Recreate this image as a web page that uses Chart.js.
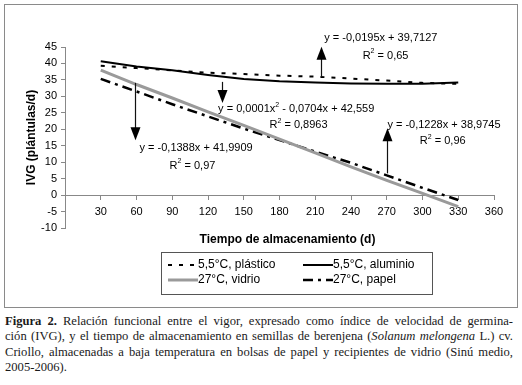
<!DOCTYPE html>
<html>
<head>
<meta charset="utf-8">
<script src="https://cdn.jsdelivr.net/npm/chart.js@4.4.0/dist/chart.umd.min.js"></script>
<style>
body{margin:0;background:#fff;width:522px;height:385px;overflow:hidden;position:relative}
#frame{position:absolute;left:4px;top:4px;width:512px;height:302px;border:1px solid #8a8a8a}
#caption{position:absolute;left:5px;top:314px;width:508px;font-family:"Liberation Serif","Times New Roman",serif;font-size:12.6px;line-height:15.3px;color:#1a1a1a}
#caption div{text-align:justify;text-align-last:justify;white-space:nowrap}
#caption div.last{text-align-last:left}
</style>
</head>
<body>
<div id="frame"><canvas id="myChart" width="512" height="302"></canvas></div>
<div id="caption">
<div><b>Figura 2.</b> Relación funcional entre el vigor, expresado como índice de velocidad de germina-</div>
<div>ción (IVG), y el tiempo de almacenamiento en semillas de berenjena (<i>Solanum melongena</i> L.) cv.</div>
<div>Criollo, almacenadas a baja temperatura en bolsas de papel y recipientes de vidrio (Sinú medio,</div>
<div class="last">2005-2006).</div>
</div>
<script>
// datos (dias de almacenamiento, IVG)
const dias = [30, 60, 90, 120, 150, 180, 210, 240, 270, 300, 330];
const plastico = [39.3, 38.6, 37.9, 37.2, 36.8, 36.3, 36.0, 35.4, 34.8, 34.1, 33.8];
const aluminio = [40.7, 39.1, 37.9, 36.5, 35.3, 34.6, 34.2, 33.9, 33.8, 33.8, 34.2];
const vidrio = [38.0, 33.6, 29.5, 25.3, 21.2, 17.0, 12.8, 8.6, 4.5, 0.5, -3.5];
const papel = [35.3, 31.5, 27.6, 23.9, 20.2, 16.7, 13.2, 9.8, 6.0, 2.2, -1.5];
const nombres = ['5,5°C, plástico', '5,5°C, aluminio', '27°C, vidrio', '27°C, papel'];
const ticksX = [30, 60, 90, 120, 150, 180, 210, 240, 270, 300, 330, 360];

const FONT = '"Liberation Sans", Arial, sans-serif';

// ecuaciones y flechas, en coordenadas de datos
const anotaciones = [
  {x: 215, desde: 35.9, hasta: 45.1,
   textos: [{x: 265, y: 47.6, seg: [['y = -0,0195x + 39,7127']]},
            {x: 269, y: 42.4, seg: [['R'], ['2', 1], [' = 0,65']]}]},
  {x: 132, desde: 34.4, hasta: 28.0,
   textos: [{x: 194, y: 26.1, seg: [['y = 0,0001x'], ['2', 1], [' - 0,0704x + 42,559']]},
            {x: 196, y: 21.3, seg: [['R'], ['2', 1], [' = 0,8963']]}]},
  {x: 59, desde: 34.1, hasta: 16.7,
   textos: [{x: 110, y: 14.2, seg: [['y = -0,1388x + 41,9909']]},
            {x: 107, y: 9.0, seg: [['R'], ['2', 1], [' = 0,97']]}]},
  {x: 270, desde: 6.6, hasta: 20.3,
   textos: [{x: 318, y: 21.3, seg: [['y = -0,1228x + 38,9745']]},
            {x: 317, y: 16.4, seg: [['R'], ['2', 1], [' = 0,96']]}]}
];

function puntos(arr) {
  return arr.map((v, i) => ({x: dias[i], y: v}));
}

function textoRico(ctx, seg, cx, cy) {
  const f = '11px ' + FONT, fs = '7px ' + FONT;
  let w = 0;
  seg.forEach(s => { ctx.font = s[1] ? fs : f; w += ctx.measureText(s[0]).width; });
  let x = cx - w / 2;
  ctx.textAlign = 'left';
  ctx.textBaseline = 'middle';
  seg.forEach(s => {
    ctx.font = s[1] ? fs : f;
    ctx.fillText(s[0], x, s[1] ? cy - 4 : cy);
    x += ctx.measureText(s[0]).width;
  });
}

const extras = {
  id: 'extras',
  afterDraw(chart) {
    const ctx = chart.ctx, sx = chart.scales.x, sy = chart.scales.y, a = chart.chartArea;
    ctx.save();
    ctx.fillStyle = '#000';
    // titulos de ejes
    ctx.font = 'bold 12px ' + FONT;
    ctx.textAlign = 'center';
    ctx.textBaseline = 'middle';
    ctx.fillText('Tiempo de almacenamiento (d)', (a.left + a.right) / 2 + 8, 235);
    ctx.save();
    ctx.translate(27, (a.top + a.bottom) / 2);
    ctx.rotate(-Math.PI / 2);
    ctx.fillText('IVG (plántulas/d)', 0, 0);
    ctx.restore();

    // flechas y ecuaciones
    anotaciones.forEach(an => {
      const px = Math.round(sx.getPixelForValue(an.x)) + 0.5;
      const y0 = sy.getPixelForValue(an.desde), y1 = sy.getPixelForValue(an.hasta);
      const dir = y1 < y0 ? 1 : -1;
      ctx.strokeStyle = '#111';
      ctx.lineWidth = 1.2;
      ctx.beginPath();
      ctx.moveTo(px, y0);
      ctx.lineTo(px, y1 + dir * 10);
      ctx.stroke();
      ctx.beginPath();
      ctx.moveTo(px, y1);
      ctx.lineTo(px - 5, y1 + dir * 13);
      ctx.lineTo(px + 5, y1 + dir * 13);
      ctx.closePath();
      ctx.fill();
      an.textos.forEach(t => textoRico(ctx, t.seg, sx.getPixelForValue(t.x), sy.getPixelForValue(t.y)));
    });

    // leyenda
    ctx.strokeStyle = '#555';
    ctx.lineWidth = 1;
    ctx.strokeRect(156.5, 247.5, 271, 42);
    const cols = [163, 298], filas = [260, 275];
    chart.data.datasets.forEach((ds, i) => {
      const lx = cols[i % 2], ly = filas[Math.floor(i / 2)];
      ctx.strokeStyle = ds.borderColor;
      ctx.lineWidth = ds.borderWidth;
      ctx.setLineDash(ds.borderDash || []);
      ctx.beginPath();
      ctx.moveTo(lx, ly);
      ctx.lineTo(lx + 30, ly);
      ctx.stroke();
      ctx.setLineDash([]);
      ctx.font = '12px ' + FONT;
      ctx.textAlign = 'left';
      ctx.textBaseline = 'middle';
      ctx.fillStyle = '#000';
      ctx.fillText(ds.label, lx + 30, ly);
    });
    ctx.restore();
  }
};

const ctx = document.getElementById('myChart');
new Chart(ctx, {
  type: 'line',
  data: {
    datasets: [
      {label: nombres[0], data: puntos(plastico), borderColor: '#000', borderWidth: 2, borderDash: [4, 7]},
      {label: nombres[1], data: puntos(aluminio), borderColor: '#000', borderWidth: 2},
      {label: nombres[2], data: puntos(vidrio), borderColor: '#9a9a9a', borderWidth: 3},
      {label: nombres[3], data: puntos(papel), borderColor: '#000', borderWidth: 2.5, borderDash: [10, 5, 3, 5]}
    ]
  },
  options: {
    responsive: false,
    animation: false,
    layout: {padding: {left: 0, top: 42, right: 23, bottom: 79}},
    elements: {point: {radius: 0}, line: {tension: 0}},
    plugins: {legend: {display: false}, tooltip: {enabled: false}},
    scales: {
      x: {
        type: 'linear', min: 0, max: 360,
        position: {y: 0},
        afterBuildTicks: s => { s.ticks = ticksX.map(v => ({value: v})); },
        ticks: {color: '#000', font: {family: FONT, size: 11}, padding: 6, maxRotation: 0},
        grid: {drawOnChartArea: false, tickLength: 4, color: '#888'},
        border: {color: '#888'}
      },
      y: {
        min: -10, max: 45,
        afterFit: s => { s.width = 60; },
        ticks: {stepSize: 5, color: '#000', font: {family: FONT, size: 11}, padding: 4},
        grid: {drawOnChartArea: false, tickLength: 4, color: '#888'},
        border: {color: '#888'}
      }
    }
  },
  plugins: [extras]
});
</script>
</body>
</html>
